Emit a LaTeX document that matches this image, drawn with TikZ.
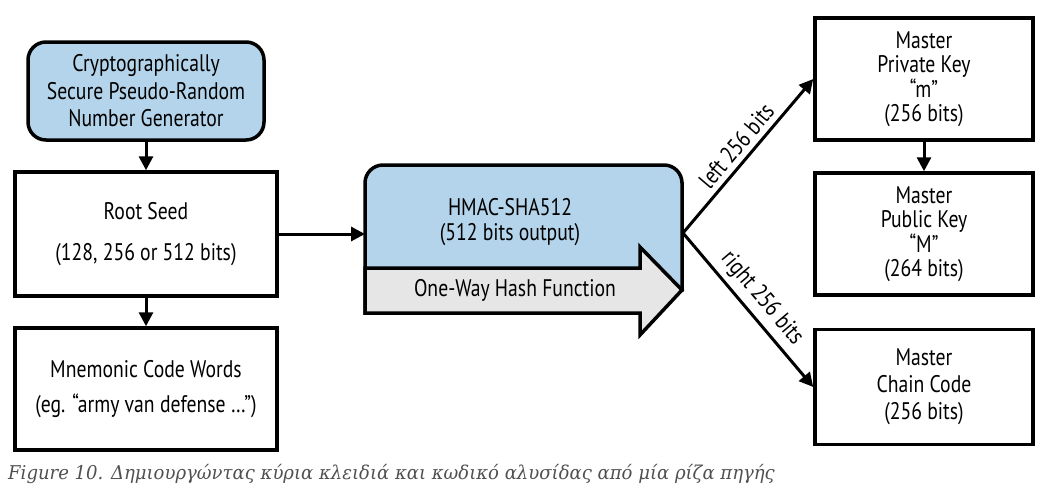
\documentclass[tikz,border=0pt]{standalone}
\usepackage{fontspec}
\setmainfont[FakeStretch=0.82]{PT Sans}
\newfontfamily\captionfont[FakeStretch=0.95]{DejaVu Serif}
\usetikzlibrary{arrows.meta}
\definecolor{seedblue}{HTML}{B3D4EA}
\definecolor{hashgray}{HTML}{E6E6E6}
\definecolor{captiongray}{HTML}{505050}
\tikzset{
  keybox/.style={draw, line width=3.5pt, fill=white, align=center, inner sep=0pt,
    font=\fontsize{24}{24.5}\selectfont},
  flow/.style={line width=3pt, -{Triangle[length=14pt,width=14pt]}},
  label/.style={font=\fontsize{24}{25}\selectfont, align=center},
}
\begin{document}
\begin{tikzpicture}[x=1pt,y=-1pt]
    \useasboundingbox (0,0) rectangle (1057,499);
    % left column
    \node [keybox, fill=seedblue, rounded corners=18pt, minimum width=236, minimum height=98,
      font=\fontsize{24}{27.5}\selectfont] (csprng) at (146,91) {Cryptographically\\Secure Pseudo-Random\\Number Generator};
    \node [keybox, minimum width=262, minimum height=124] (rootseed) at (146,234) {Root Seed\\[17pt](128, 256 or 512 bits)};
    \node [keybox, minimum width=262, minimum height=122] (mnemonic) at (146,389) {Mnemonic Code Words\\[10pt](eg. “army van defense \ldots”)};
    % hash function
    \draw [line width=3.5pt, fill=seedblue] (365,290) [rounded corners=18pt] -- (365,165) -- (682,165) -- (682,200) [sharp corners] -- (682,290) -- (365,313) -- cycle;
    \draw [line width=3.5pt, fill=hashgray, line join=miter] (365,268) -- (640,268) -- (640,247) -- (682,290) -- (640,335) -- (640,313) -- (365,313) -- cycle;
    \node [label] (hmac) at (510,222) {HMAC-SHA512\\(512 bits output)};
    \node [label] (owhf) at (515,290) {One-Way Hash Function};
    \coordinate (hmacin) at (365,234);
    \coordinate (split) at (683,233);
    % right column
    \node [keybox, minimum width=218, minimum height=122] (privkey) at (924,79) {Master\\Private Key\\“m”\\(256 bits)};
    \node [keybox, minimum width=218, minimum height=122] (pubkey) at (924,234) {Master\\Public Key\\“M”\\(264 bits)};
    \node [keybox, minimum width=218, minimum height=115, font=\fontsize{24}{27}\selectfont] (chaincode) at (924,387) {Master\\Chain Code\\(256 bits)};
    % connectors
    \draw [flow] (csprng) -- (rootseed);
    \draw [flow] (rootseed) -- (mnemonic);
    \draw [flow] (rootseed) -- (hmacin);
    \draw [flow] (privkey) -- (pubkey);
    \draw [flow] (split) -- (privkey.west) node [label, midway, above=2pt, sloped] {left 256 bits};
    \draw [flow] (split) -- (chaincode.west) node [label, midway, above=2pt, sloped] {right 256 bits};
    % caption
    \node [anchor=base west, inner sep=0pt, text=captiongray, font=\captionfont\itshape\fontsize{19}{22}\selectfont] (caption) at (8,479)
      {Figure 10. Δημιουργώντας κύρια κλειδιά και κωδικό αλυσίδας από μία ρίζα πηγής};
\end{tikzpicture}
\end{document}
